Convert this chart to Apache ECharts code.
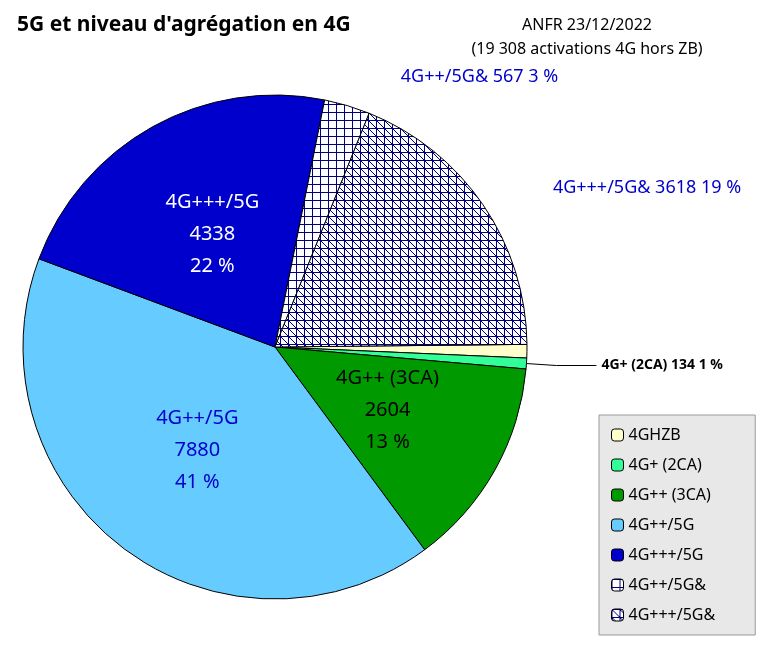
<!DOCTYPE html>
<html><head><meta charset="utf-8">
<script src="https://cdn.jsdelivr.net/npm/echarts@6/dist/echarts.min.js"></script>
<style>body{margin:0}#c{width:769px;height:650px}</style></head>
<body><div id="c"></div>
<script>
var categories = ['4GHZB', '4G+ (2CA)', '4G++ (3CA)', '4G++/5G', '4G+++/5G', '4G++/5G&', '4G+++/5G&'];
var values = [167, 134, 2604, 7880, 4338, 567, 3618];
var percents = [1, 1, 13, 41, 22, 3, 19];
var colors = ['#ffffcc', '#33ff99', '#009900', '#66ccff', '#0000cc', null, null];

function makePattern(diag) {
    var cv = document.createElement('canvas');
    cv.width = 8; cv.height = 8;
    var g = cv.getContext('2d');
    g.fillStyle = '#fff'; g.fillRect(0, 0, 8, 8);
    g.strokeStyle = '#000080'; g.lineWidth = 1;
    g.beginPath();
    g.moveTo(0, 0.5); g.lineTo(8, 0.5);
    g.moveTo(0.5, 0); g.lineTo(0.5, 8);
    if (diag) { g.moveTo(0, 0); g.lineTo(8, 8); }
    g.stroke();
    return { image: cv, repeat: 'repeat' };
}
colors[5] = makePattern(false);
colors[6] = makePattern(true);

var labelStyles = [
    { position: 'outside', color: '#000', fontSize: 14, fontWeight: 'bold', line: true },
    { position: 'outside', color: '#000', fontSize: 14, fontWeight: 'bold', line: true },
    { position: 'inside', color: '#000', fontSize: 20, multi: true },
    { position: 'inside', color: '#0000cc', fontSize: 20, multi: true },
    { position: 'inside', color: '#fff', fontSize: 20, multi: true },
    { position: 'outside', color: '#0000cc', fontSize: 18 },
    { position: 'outside', color: '#0000cc', fontSize: 18 }
];

var data = categories.map(function (name, i) {
    var s = labelStyles[i];
    return {
        name: name, value: values[i],
        itemStyle: { color: colors[i] },
        label: {
            position: s.position, color: s.color, fontSize: s.fontSize,
            fontWeight: s.fontWeight || 'normal', lineHeight: 32,
            formatter: s.multi ? name + '\n' + values[i] + '\n' + percents[i] + ' %'
                               : name + ' ' + values[i] + ' ' + percents[i] + ' %'
        },
        labelLine: { show: !!s.line, length: 30, length2: 40, lineStyle: { color: '#000' } }
    };
});

var chart = echarts.init(document.getElementById('c'));
chart.setOption({
    textStyle: { fontFamily: 'Noto Sans' },
    title: [
        { text: "5G et niveau d'agrégation en 4G", left: 12, top: 10,
          textStyle: { fontSize: 21, fontWeight: 'bold', color: '#000' } },
        { text: 'ANFR 23/12/2022\n(19 308 activations 4G hors ZB)', left: 582, top: 8, textAlign: 'center',
          textStyle: { fontSize: 16, fontWeight: 'normal', color: '#000', lineHeight: 24 } }
    ],
    legend: {
        orient: 'vertical', left: 599, top: 415, width: 150, height: 225,
        padding: [12, 40, 12, 12], itemGap: 14, itemWidth: 12, itemHeight: 12,
        backgroundColor: '#e8e8e8', borderColor: '#999', borderWidth: 1,
        textStyle: { fontSize: 16, color: '#000' },
        itemStyle: { borderColor: '#000', borderWidth: 1 },
        data: categories
    },
    series: [{
        type: 'pie', center: [275, 347], radius: [0, 252],
        startAngle: 0.6, clockwise: true, avoidLabelOverlap: false,
        itemStyle: { borderColor: '#000', borderWidth: 1 },
        emphasis: { disabled: true },
        data: data
    }]
});
</script></body></html>
